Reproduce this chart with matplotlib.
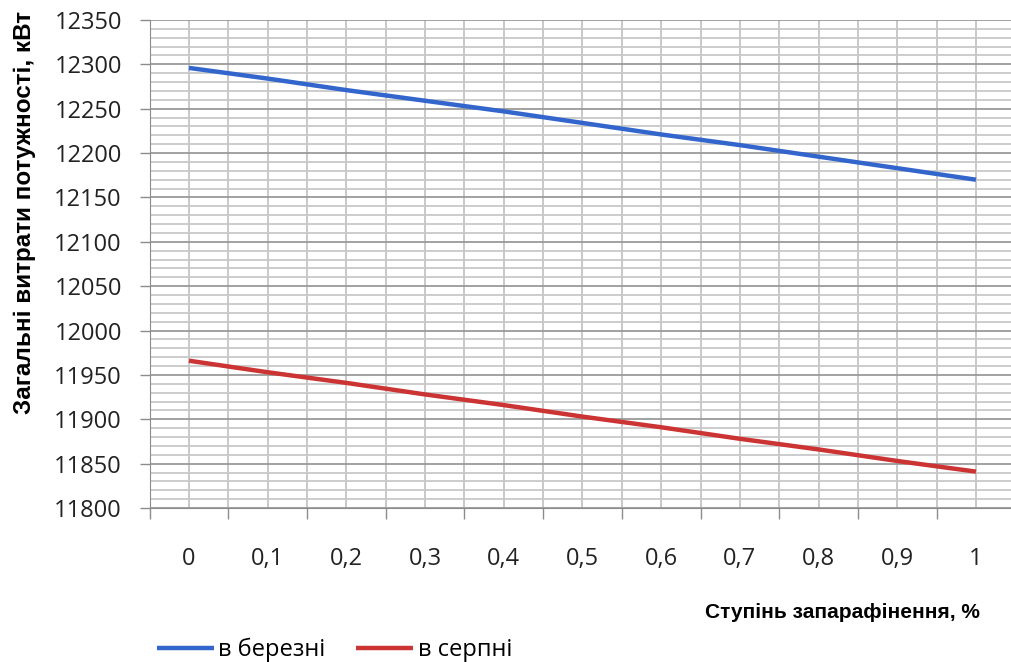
import numpy as np
import matplotlib
matplotlib.use("Agg")
import matplotlib.pyplot as plt
from matplotlib.ticker import MultipleLocator, FixedLocator

# data
stupin = ["0", "0,1", "0,2", "0,3", "0,4", "0,5", "0,6", "0,7", "0,8", "0,9", "1"]
berezen = [12296, 12284, 12271, 12259, 12247, 12234, 12221, 12209, 12196, 12183, 12170]
serpen = [11966, 11953, 11941, 11928, 11916, 11903, 11891, 11878, 11866, 11853, 11841]

BLUE = "#3366CC"
RED = "#CC3333"
FONT = "Open Sans"
NBsize = 17

fig = plt.figure(figsize=(10.12, 6.62), dpi=100)
ax = fig.add_axes([149.6/1012, 154/662, 865.7/1012, 488/662])

x = np.arange(len(stupin))
l1, = ax.plot(x, berezen, color=BLUE, lw=3.2, solid_capstyle="butt", label="в березні", zorder=3)
l2, = ax.plot(x, serpen, color=RED, lw=3.2, solid_capstyle="butt", label="в серпні", zorder=3)

ax.set_xlim(-0.5, len(stupin) - 0.5)
ax.set_ylim(11800, 12350)

# x: labels at categories, tick marks at boundaries
ax.set_xticks(x)
ax.set_xticklabels(stupin, fontsize=NBsize, family=FONT, color="#222222")
ax.xaxis.set_minor_locator(FixedLocator(np.arange(-0.5, len(stupin), 1.0)))
ax.tick_params(axis="x", which="major", length=0, pad=28)
ax.tick_params(axis="x", which="minor", length=8, width=1, color="#8c8c8c")

ax.yaxis.set_major_locator(MultipleLocator(50))
ax.yaxis.set_minor_locator(MultipleLocator(10))
ax.tick_params(axis="y", which="major", length=7, width=1, color="#8c8c8c", pad=13,
               labelsize=NBsize, labelcolor="#222222")
ax.tick_params(axis="y", which="minor", length=0)
for t in ax.get_yticklabels():
    t.set_family(FONT)

ax.grid(axis="x", which="both", color="#c4c4c4", lw=1.3)
ax.grid(axis="y", which="minor", color="#c8c8c8", lw=1.3)
ax.grid(axis="y", which="major", color="#9a9a9a", lw=1.3)
ax.set_axisbelow(True)

for s in ["top", "right"]:
    ax.spines[s].set_visible(False)
ax.spines["left"].set_color("#8c8c8c")
ax.spines["bottom"].set_color("#8c8c8c")

fig.text(25/1012, 1 - 212/662, "Загальні витрати потужності, кВт", rotation=90,
         ha="center", va="center", fontsize=17.5, fontweight="bold", family="Liberation Sans")
fig.text(980/1012, 1 - 613/662, "Ступінь запарафінення, %", ha="right", va="center",
         fontsize=15, fontweight="bold", family="Liberation Sans")

fig.legend(handles=[l1, l2], loc="center left", bbox_to_anchor=(157/1012, 1 - 650/662),
           ncol=2, frameon=False, handlelength=2.4, handletextpad=0.2, columnspacing=1.3,
           prop={"family": FONT, "size": NBsize}, borderaxespad=0, borderpad=0)

fig.savefig("out.png", dpi=100)
